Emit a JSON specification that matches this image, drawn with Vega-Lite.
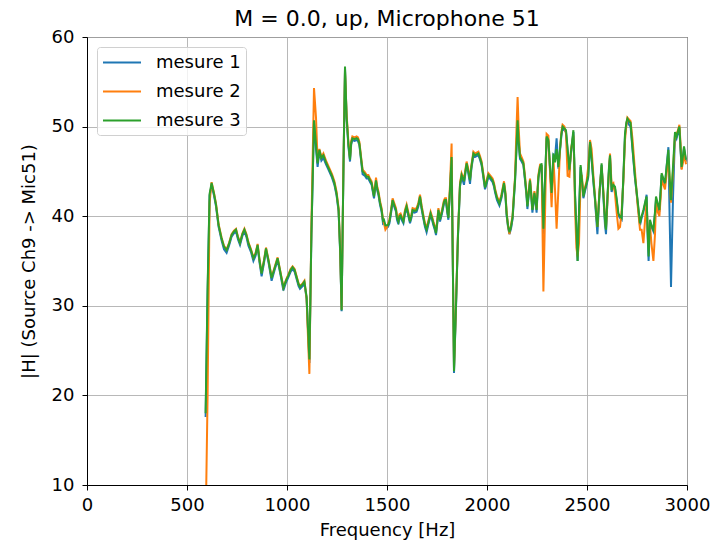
{
  "$schema": "https://vega.github.io/schema/vega-lite/v6.json",
  "width": 600,
  "height": 448,
  "autosize": {"type": "none"},
  "padding": {"left": 87, "top": 37, "right": 29, "bottom": 58},
  "background": "white",
  "title": {"text": "M = 0.0, up, Microphone 51", "fontSize": 22, "fontWeight": "normal", "font": "DejaVu Sans", "color": "#000", "offset": -3, "anchor": "middle"},
  "config": {
    "view": {"stroke": "#000", "strokeWidth": 1},
    "axis": {"labelFont": "DejaVu Sans", "titleFont": "DejaVu Sans", "labelFontSize": 18, "titleFontSize": 18, "titleFontWeight": "normal", "labelColor": "#000", "titleColor": "#000", "domainColor": "#000", "tickColor": "#000", "tickSize": 5, "gridColor": "#b0b0b0", "gridWidth": 1, "gridOpacity": 0.9}
  },
  "data": {"values": [
    {"f":593,"a":17.6,"b":5,"c":18.0},
    {"f":603,"a":31.5,"b":20,"c":32},
    {"f":613,"a":42.3,"b":41.5,"c":42.5},
    {"f":623,"a":43.5,"b":43.8,"c":43.7},
    {"f":635,"a":42.3,"b":42.6,"c":42.5},
    {"f":645,"a":41.1,"b":41.4,"c":41.3},
    {"f":658,"a":38.8,"b":39.1,"c":39.0},
    {"f":673,"a":37.3,"b":37.6,"c":37.5},
    {"f":685,"a":36.3,"b":36.7,"c":36.6},
    {"f":698,"a":35.9,"b":36.3,"c":36.2},
    {"f":710,"a":36.7,"b":37.0,"c":36.9},
    {"f":723,"a":37.7,"b":38.0,"c":37.9},
    {"f":735,"a":38.1,"b":38.4,"c":38.3},
    {"f":745,"a":38.3,"b":38.6,"c":38.5},
    {"f":755,"a":37.4,"b":37.7,"c":37.6},
    {"f":765,"a":36.8,"b":37.1,"c":37.0},
    {"f":777,"a":37.8,"b":38.1,"c":38.0},
    {"f":787,"a":38.3,"b":38.6,"c":38.5},
    {"f":797,"a":37.7,"b":38.0,"c":37.9},
    {"f":807,"a":36.7,"b":37.1,"c":37.0},
    {"f":820,"a":36.0,"b":36.3,"c":36.2},
    {"f":832,"a":35.0,"b":35.4,"c":35.3},
    {"f":843,"a":35.6,"b":35.9,"c":35.8},
    {"f":853,"a":36.6,"b":36.9,"c":36.8},
    {"f":863,"a":34.8,"b":35.1,"c":35.0},
    {"f":873,"a":33.3,"b":33.7,"c":33.6},
    {"f":885,"a":34.8,"b":35.1,"c":35.0},
    {"f":895,"a":36.2,"b":36.5,"c":36.4},
    {"f":908,"a":34.8,"b":35.1,"c":35.0},
    {"f":923,"a":32.8,"b":33.2,"c":33.1},
    {"f":938,"a":34.0,"b":34.3,"c":34.2},
    {"f":953,"a":35.1,"b":35.4,"c":35.3},
    {"f":968,"a":33.4,"b":33.7,"c":33.6},
    {"f":982,"a":31.7,"b":32.1,"c":32.0},
    {"f":995,"a":32.6,"b":32.9,"c":32.8},
    {"f":1007,"a":33.2,"b":33.5,"c":33.4},
    {"f":1018,"a":33.8,"b":34.1,"c":34.0},
    {"f":1028,"a":34.1,"b":34.4,"c":34.3},
    {"f":1038,"a":33.8,"b":34.1,"c":34.0},
    {"f":1048,"a":33.0,"b":33.3,"c":33.2},
    {"f":1058,"a":32.2,"b":32.5,"c":32.4},
    {"f":1065,"a":31.9,"b":32.2,"c":32.1},
    {"f":1078,"a":32.2,"b":32.5,"c":32.4},
    {"f":1087,"a":32.5,"b":32.8,"c":32.7},
    {"f":1098,"a":30.8,"b":30.8,"c":31.0},
    {"f":1105,"a":27.3,"b":26.5,"c":27.5},
    {"f":1112,"a":23.6,"b":22.4,"c":24.0},
    {"f":1122,"a":37.8,"b":39,"c":38},
    {"f":1135,"a":50.5,"b":54.3,"c":50.7},
    {"f":1145,"a":47.5,"b":51,"c":48},
    {"f":1153,"a":45.5,"b":46.2,"c":45.9},
    {"f":1162,"a":47.2,"b":47.5,"c":47.4},
    {"f":1172,"a":46.2,"b":46.6,"c":46.5},
    {"f":1182,"a":46.5,"b":47.0,"c":46.8},
    {"f":1195,"a":45.8,"b":46.2,"c":46.0},
    {"f":1205,"a":45.3,"b":45.7,"c":45.5},
    {"f":1215,"a":44.8,"b":45.2,"c":45.0},
    {"f":1225,"a":44.3,"b":44.7,"c":44.5},
    {"f":1237,"a":43.5,"b":43.9,"c":43.7},
    {"f":1248,"a":42.3,"b":42.7,"c":42.5},
    {"f":1258,"a":40.5,"b":40.9,"c":40.7},
    {"f":1266,"a":35.8,"b":36.2,"c":36},
    {"f":1273,"a":29.4,"b":29.6,"c":29.5},
    {"f":1282,"a":44.8,"b":45.5,"c":45},
    {"f":1290,"a":56.5,"b":56.2,"c":56.7},
    {"f":1298,"a":50.9,"b":51.4,"c":51.1},
    {"f":1307,"a":47.8,"b":48.3,"c":48},
    {"f":1315,"a":46.1,"b":46.5,"c":46.3},
    {"f":1321,"a":48.0,"b":48.4,"c":48.2},
    {"f":1327,"a":48.5,"b":48.9,"c":48.7},
    {"f":1338,"a":48.4,"b":48.8,"c":48.6},
    {"f":1348,"a":48.5,"b":48.9,"c":48.7},
    {"f":1355,"a":48.4,"b":48.8,"c":48.6},
    {"f":1362,"a":47.9,"b":48.3,"c":48.1},
    {"f":1370,"a":46.3,"b":46.7,"c":46.5},
    {"f":1378,"a":44.7,"b":45.2,"c":45.0},
    {"f":1390,"a":44.5,"b":44.9,"c":44.7},
    {"f":1398,"a":44.2,"b":44.6,"c":44.4},
    {"f":1407,"a":44.2,"b":44.6,"c":44.4},
    {"f":1415,"a":43.8,"b":44.2,"c":44.0},
    {"f":1423,"a":43.5,"b":43.9,"c":43.7},
    {"f":1430,"a":42.6,"b":43.0,"c":42.8},
    {"f":1435,"a":42.0,"b":42.4,"c":42.2},
    {"f":1445,"a":43.8,"b":44.3,"c":44.0},
    {"f":1452,"a":42.8,"b":43.2,"c":43.0},
    {"f":1457,"a":42.4,"b":42.8,"c":42.6},
    {"f":1465,"a":41.3,"b":41.7,"c":41.5},
    {"f":1473,"a":40.5,"b":40.9,"c":40.7},
    {"f":1480,"a":39.2,"b":39.6,"c":39.5},
    {"f":1485,"a":39.3,"b":39.2,"c":39.6},
    {"f":1492,"a":38.8,"b":38.5,"c":39.0},
    {"f":1498,"a":38.7,"b":38.7,"c":39.0},
    {"f":1505,"a":38.8,"b":39.1,"c":39.0},
    {"f":1512,"a":39.2,"b":39.6,"c":39.4},
    {"f":1520,"a":40.3,"b":40.7,"c":40.5},
    {"f":1528,"a":41.6,"b":42.0,"c":41.8},
    {"f":1537,"a":41.0,"b":41.4,"c":41.2},
    {"f":1545,"a":40.5,"b":40.9,"c":40.7},
    {"f":1550,"a":39.6,"b":40.0,"c":39.8},
    {"f":1557,"a":39.1,"b":39.6,"c":39.4},
    {"f":1562,"a":39.8,"b":40.2,"c":40.0},
    {"f":1568,"a":39.9,"b":40.3,"c":40.1},
    {"f":1575,"a":39.5,"b":39.9,"c":39.7},
    {"f":1582,"a":39.2,"b":39.6,"c":39.4},
    {"f":1590,"a":40.3,"b":40.7,"c":40.5},
    {"f":1598,"a":40.9,"b":41.3,"c":41.1},
    {"f":1607,"a":40.0,"b":40.4,"c":40.2},
    {"f":1615,"a":39.2,"b":39.6,"c":39.4},
    {"f":1622,"a":39.8,"b":40.2,"c":40.0},
    {"f":1628,"a":40.5,"b":40.9,"c":40.7},
    {"f":1638,"a":40.4,"b":40.8,"c":40.6},
    {"f":1648,"a":40.5,"b":40.9,"c":40.7},
    {"f":1657,"a":41.1,"b":41.5,"c":41.3},
    {"f":1665,"a":42.0,"b":42.4,"c":42.2},
    {"f":1673,"a":40.8,"b":41.2,"c":41.0},
    {"f":1682,"a":39.7,"b":40.1,"c":39.9},
    {"f":1690,"a":38.8,"b":39.2,"c":39.0},
    {"f":1698,"a":38.2,"b":38.7,"c":38.5},
    {"f":1707,"a":39.1,"b":39.5,"c":39.3},
    {"f":1718,"a":40.1,"b":40.5,"c":40.3},
    {"f":1725,"a":39.6,"b":40.0,"c":39.8},
    {"f":1732,"a":39.0,"b":39.4,"c":39.2},
    {"f":1740,"a":38.4,"b":38.8,"c":38.6},
    {"f":1745,"a":37.9,"b":38.3,"c":38.1},
    {"f":1752,"a":39.3,"b":39.7,"c":39.5},
    {"f":1757,"a":40.5,"b":40.9,"c":40.7},
    {"f":1765,"a":39.4,"b":39.8,"c":39.6},
    {"f":1775,"a":40.3,"b":40.7,"c":40.5},
    {"f":1785,"a":41.4,"b":41.8,"c":41.6},
    {"f":1790,"a":41.6,"b":42.0,"c":41.8},
    {"f":1795,"a":41.6,"b":42.0,"c":41.8},
    {"f":1802,"a":40.3,"b":40.7,"c":40.5},
    {"f":1807,"a":39.6,"b":40.0,"c":39.8},
    {"f":1815,"a":42.8,"b":43.5,"c":43},
    {"f":1823,"a":46.3,"b":48.1,"c":46.6},
    {"f":1829,"a":34.8,"b":35.5,"c":35},
    {"f":1835,"a":22.5,"b":23.0,"c":22.7},
    {"f":1845,"a":29.8,"b":30.3,"c":30},
    {"f":1855,"a":37.8,"b":38.2,"c":38},
    {"f":1865,"a":43.3,"b":43.7,"c":43.5},
    {"f":1873,"a":44.4,"b":44.8,"c":44.6},
    {"f":1880,"a":43.9,"b":44.4,"c":44.2},
    {"f":1885,"a":43.5,"b":44.1,"c":43.9},
    {"f":1892,"a":44.8,"b":45.2,"c":45},
    {"f":1898,"a":45.7,"b":46.1,"c":45.9},
    {"f":1905,"a":45.0,"b":45.4,"c":45.2},
    {"f":1915,"a":43.6,"b":44.2,"c":44.0},
    {"f":1922,"a":45.3,"b":45.7,"c":45.5},
    {"f":1932,"a":46.8,"b":47.2,"c":47.0},
    {"f":1940,"a":46.6,"b":47.0,"c":46.8},
    {"f":1948,"a":46.7,"b":47.1,"c":46.9},
    {"f":1957,"a":46.8,"b":47.2,"c":47.0},
    {"f":1965,"a":46.3,"b":46.7,"c":46.5},
    {"f":1973,"a":45.7,"b":46.1,"c":45.9},
    {"f":1980,"a":44.6,"b":45.0,"c":44.8},
    {"f":1990,"a":43.0,"b":43.4,"c":43.2},
    {"f":1998,"a":43.6,"b":44.0,"c":43.8},
    {"f":2007,"a":44.4,"b":44.8,"c":44.6},
    {"f":2018,"a":44.1,"b":44.5,"c":44.3},
    {"f":2028,"a":43.8,"b":44.2,"c":44.0},
    {"f":2035,"a":43.3,"b":43.7,"c":43.5},
    {"f":2040,"a":42.7,"b":43.1,"c":42.9},
    {"f":2050,"a":41.8,"b":42.2,"c":42.0},
    {"f":2062,"a":41.2,"b":41.6,"c":41.4},
    {"f":2072,"a":42.0,"b":42.4,"c":42.2},
    {"f":2085,"a":43.5,"b":43.9,"c":43.7},
    {"f":2092,"a":42.3,"b":42.7,"c":42.5},
    {"f":2098,"a":40.1,"b":40.5,"c":40.3},
    {"f":2105,"a":38.8,"b":39.0,"c":39.0},
    {"f":2112,"a":38.0,"b":38.0,"c":38.2},
    {"f":2120,"a":38.6,"b":39.0,"c":38.8},
    {"f":2128,"a":39.7,"b":40.1,"c":39.9},
    {"f":2134,"a":41.8,"b":42.3,"c":42},
    {"f":2140,"a":43.8,"b":44.3,"c":44.0},
    {"f":2147,"a":47.3,"b":49.5,"c":47.5},
    {"f":2153,"a":50.5,"b":53.3,"c":50.7},
    {"f":2158,"a":48.3,"b":50,"c":48.5},
    {"f":2165,"a":46.4,"b":47.0,"c":46.6},
    {"f":2173,"a":46.1,"b":46.6,"c":46.3},
    {"f":2182,"a":45.7,"b":46.1,"c":45.9},
    {"f":2190,"a":44.0,"b":44.5,"c":44.2},
    {"f":2197,"a":42.4,"b":42.8,"c":42.6},
    {"f":2202,"a":40.8,"b":41.4,"c":41.1},
    {"f":2208,"a":42.2,"b":42.6,"c":42.4},
    {"f":2215,"a":43.8,"b":44.2,"c":44.0},
    {"f":2221,"a":42.3,"b":42.7,"c":42.5},
    {"f":2227,"a":40.4,"b":40.9,"c":40.7},
    {"f":2232,"a":41.3,"b":41.7,"c":41.5},
    {"f":2237,"a":42.4,"b":42.8,"c":42.6},
    {"f":2243,"a":41.5,"b":41.9,"c":41.7},
    {"f":2248,"a":40.4,"b":40.9,"c":40.7},
    {"f":2252,"a":42.3,"b":42.7,"c":42.5},
    {"f":2257,"a":44.2,"b":44.6,"c":44.4},
    {"f":2265,"a":45.3,"b":45.7,"c":45.5},
    {"f":2273,"a":45.7,"b":45.6,"c":45.9},
    {"f":2282,"a":38.0,"b":31.6,"c":38.6},
    {"f":2290,"a":43.8,"b":40,"c":44},
    {"f":2298,"a":48.7,"b":49.2,"c":48.9},
    {"f":2307,"a":48.3,"b":49.0,"c":48.5},
    {"f":2315,"a":45.3,"b":45.0,"c":45.5},
    {"f":2323,"a":42.4,"b":41,"c":42.6},
    {"f":2332,"a":46.8,"b":46.5,"c":47.0},
    {"f":2340,"a":46.5,"b":43,"c":46.0},
    {"f":2348,"a":48.7,"b":38.6,"c":47.5},
    {"f":2357,"a":45.3,"b":43,"c":45.5},
    {"f":2365,"a":47.3,"b":47.5,"c":47.5},
    {"f":2372,"a":49.0,"b":49.4,"c":49.2},
    {"f":2378,"a":49.8,"b":50.2,"c":50.0},
    {"f":2387,"a":49.6,"b":50.0,"c":49.8},
    {"f":2395,"a":49.4,"b":49.2,"c":49.6},
    {"f":2403,"a":47.3,"b":44.5,"c":47.5},
    {"f":2412,"a":45.0,"b":44.4,"c":45.2},
    {"f":2420,"a":47.0,"b":47.5,"c":47.2},
    {"f":2432,"a":49.4,"b":49.0,"c":49.6},
    {"f":2436,"a":46.3,"b":46.0,"c":46.5},
    {"f":2440,"a":42.4,"b":41,"c":42.6},
    {"f":2447,"a":38.3,"b":36.5,"c":38.5},
    {"f":2453,"a":35.0,"b":35.5,"c":35.0},
    {"f":2460,"a":40.3,"b":37,"c":40.5},
    {"f":2468,"a":45.5,"b":44,"c":45.7},
    {"f":2475,"a":43.8,"b":44.3,"c":44.0},
    {"f":2482,"a":42.0,"b":42.5,"c":42.2},
    {"f":2490,"a":42.8,"b":43.2,"c":43.0},
    {"f":2498,"a":43.5,"b":43.9,"c":43.7},
    {"f":2506,"a":44.3,"b":45.5,"c":44.5},
    {"f":2515,"a":48.1,"b":48.5,"c":48.3},
    {"f":2523,"a":46.3,"b":47.5,"c":46.5},
    {"f":2532,"a":43.8,"b":44.5,"c":44.0},
    {"f":2540,"a":41.8,"b":42.2,"c":42.0},
    {"f":2547,"a":39.5,"b":40.2,"c":40.0},
    {"f":2552,"a":38.0,"b":38.8,"c":38.8},
    {"f":2562,"a":42.3,"b":42.7,"c":42.5},
    {"f":2573,"a":45.7,"b":45.5,"c":45.9},
    {"f":2583,"a":41.8,"b":42.5,"c":42.0},
    {"f":2590,"a":39.0,"b":39.8,"c":39.5},
    {"f":2595,"a":38.0,"b":38.7,"c":38.5},
    {"f":2603,"a":42.3,"b":42.0,"c":42.5},
    {"f":2610,"a":45.3,"b":45.0,"c":45.5},
    {"f":2615,"a":46.6,"b":47.0,"c":46.8},
    {"f":2623,"a":42.7,"b":43.5,"c":42.9},
    {"f":2632,"a":43.3,"b":43.7,"c":43.5},
    {"f":2640,"a":43.1,"b":42.5,"c":43.3},
    {"f":2648,"a":41.8,"b":40.5,"c":42.0},
    {"f":2657,"a":40.1,"b":38.6,"c":40.3},
    {"f":2665,"a":39.8,"b":38.8,"c":40.0},
    {"f":2673,"a":39.6,"b":40.5,"c":39.8},
    {"f":2682,"a":44.3,"b":44.0,"c":44.5},
    {"f":2690,"a":49.0,"b":48.5,"c":49.2},
    {"f":2697,"a":50.3,"b":50.2,"c":50.5},
    {"f":2702,"a":50.7,"b":51.0,"c":50.9},
    {"f":2710,"a":50.2,"b":50.8,"c":50.6},
    {"f":2718,"a":50.0,"b":50.6,"c":50.4},
    {"f":2728,"a":47.3,"b":48.5,"c":47.5},
    {"f":2740,"a":44.2,"b":45.0,"c":44.4},
    {"f":2752,"a":41.8,"b":41.5,"c":42.0},
    {"f":2765,"a":39.0,"b":38.5,"c":39.2},
    {"f":2773,"a":39.8,"b":38.5,"c":40.0},
    {"f":2782,"a":40.5,"b":37,"c":40.7},
    {"f":2790,"a":41.3,"b":39.5,"c":41.5},
    {"f":2798,"a":42.4,"b":41.5,"c":42.2},
    {"f":2803,"a":38.0,"b":38.5,"c":38.5},
    {"f":2808,"a":35.0,"b":37.5,"c":35.5},
    {"f":2815,"a":39.4,"b":39.0,"c":39.6},
    {"f":2822,"a":38.8,"b":37.0,"c":39.0},
    {"f":2832,"a":38.3,"b":35.0,"c":38.5},
    {"f":2840,"a":40.3,"b":38,"c":40.5},
    {"f":2845,"a":41.8,"b":41.5,"c":42.2},
    {"f":2853,"a":41.3,"b":40.5,"c":41.5},
    {"f":2862,"a":40.5,"b":40.0,"c":40.7},
    {"f":2868,"a":42.6,"b":42.0,"c":42.8},
    {"f":2873,"a":44.6,"b":44.0,"c":44.8},
    {"f":2882,"a":44.0,"b":43.5,"c":44.2},
    {"f":2890,"a":43.5,"b":43.0,"c":43.7},
    {"f":2898,"a":45.5,"b":44.8,"c":45.5},
    {"f":2907,"a":47.7,"b":46.5,"c":47.4},
    {"f":2913,"a":40,"b":44.0,"c":44.5},
    {"f":2920,"a":32.1,"b":41.5,"c":41.8},
    {"f":2930,"a":42,"b":45.0,"c":45.5},
    {"f":2940,"a":49.2,"b":49.0,"c":49.4},
    {"f":2948,"a":48.7,"b":49.2,"c":48.9},
    {"f":2955,"a":49.3,"b":49.6,"c":49.5},
    {"f":2962,"a":49.8,"b":50.2,"c":50.0},
    {"f":2968,"a":47.3,"b":48.0,"c":47.5},
    {"f":2973,"a":45.3,"b":45.2,"c":45.5},
    {"f":2980,"a":46.6,"b":46.0,"c":46.8},
    {"f":2985,"a":47.6,"b":47.0,"c":47.8},
    {"f":2995,"a":46.1,"b":45.8,"c":46.3}
  ]},
  "transform": [{"fold": ["a", "b", "c"], "as": ["series", "value"]}],
  "mark": {"type": "line", "strokeWidth": 2, "clip": true},
  "encoding": {
    "x": {"field": "f", "type": "quantitative", "title": "Frequency [Hz]", "scale": {"domain": [0, 3000], "nice": false, "zero": false},
      "axis": {"values": [0, 500, 1000, 1500, 2000, 2500, 3000], "format": "d", "labelPadding": 6, "titlePadding": 7, "labelFlush": false}},
    "y": {"field": "value", "type": "quantitative", "title": "|H| (Source Ch9 -> Mic51)", "scale": {"domain": [10, 60], "nice": false, "zero": false},
      "axis": {"values": [10, 20, 30, 40, 50, 60], "format": "d", "labelPadding": 8, "titlePadding": 13, "labelFlush": false}},
    "color": {"field": "series", "type": "nominal",
      "scale": {"domain": ["a", "b", "c"], "range": ["#1f77b4", "#ff7f0e", "#2ca02c"]},
      "legend": {"title": null, "orient": "none", "legendX": 10, "legendY": 10,
        "labelExpr": "datum.label == 'a' ? 'mesure 1' : datum.label == 'b' ? 'mesure 2' : 'mesure 3'",
        "symbolType": "M-1,0L3,0", "symbolSize": 361, "symbolStrokeWidth": 2, "labelFontSize": 18, "labelFont": "DejaVu Sans", "labelColor": "#000",
        "rowPadding": 9, "labelOffset": 33, "padding": 5, "fillColor": "rgba(255,255,255,0.8)", "strokeColor": "#d0d0d0", "cornerRadius": 3}},
    "order": {"field": "f", "type": "quantitative"}
  }
}
